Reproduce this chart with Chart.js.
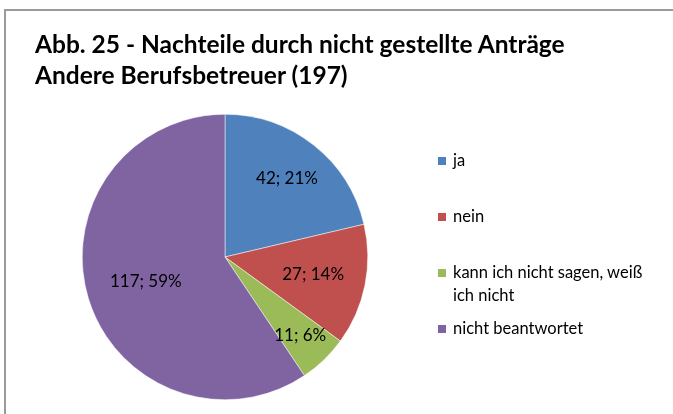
<!DOCTYPE html>
<html>
<head>
<meta charset="utf-8">
<script src="https://cdn.jsdelivr.net/npm/chart.js@4"></script>
<style>
    html, body { margin: 0; padding: 0; background: #fff; }
    #wrap { position: relative; width: 673px; height: 414px; overflow: hidden; font-family: Lato, "Liberation Sans", sans-serif; }
    #frame { position: absolute; left: 4px; top: 9px; width: 700px; height: 440px; border: 2px solid #9a9a9a; box-sizing: border-box; }
    #chart { position: absolute; left: 0; top: 0; }
    #title { position: absolute; left: 35px; top: 28px; font-weight: bold; font-size: 24.5px; line-height: 31px; color: #000; white-space: nowrap; }
    #legend { position: absolute; left: 437px; top: 0; font-size: 16.5px; color: #000; }
    .item { position: absolute; left: 0; width: 236px; line-height: 23px; }
    .item .sw { position: absolute; left: 1px; top: 8px; width: 8px; height: 8px; }
    .item .tx { display: block; padding-left: 16px; width: 205px; }
</style>
</head>
<body>
<div id="wrap">
    <div id="frame"></div>
    <canvas id="chart" width="673" height="414"></canvas>
    <div id="title">Abb. 25 - Nachteile durch nicht gestellte Anträge<br>Andere Berufsbetreuer (197)</div>
    <div id="legend"></div>
</div>
<script>
const categories = ['ja', 'nein', 'kann ich nicht sagen, weiß ich nicht', 'nicht beantwortet'];
const counts = [42, 27, 11, 117];
const percentLabels = ['21%', '14%', '6%', '59%'];
const colors = ['#4F81BD', '#C0504D', '#9BBB59', '#8064A2'];

// Beschriftungen in den Segmenten (Anzahl; Prozent)
const sliceLabels = {
    id: 'sliceLabels',
    afterDatasetsDraw(chart, args, opts) {
        const ctx = chart.ctx;
        const meta = chart.getDatasetMeta(0);
        ctx.save();
        ctx.font = '17px Lato, "Liberation Sans", sans-serif';
        ctx.fillStyle = '#000';
        ctx.textAlign = 'center';
        ctx.textBaseline = 'middle';
        meta.data.forEach((arc, i) => {
            const mid = (arc.startAngle + arc.endAngle) / 2;
            const r = arc.outerRadius * opts.radius[i];
            const x = arc.x + Math.cos(mid) * r;
            const y = arc.y + Math.sin(mid) * r;
            ctx.fillText(counts[i] + '; ' + percentLabels[i], x, y);
        });
        ctx.restore();
    }
};

new Chart(document.getElementById('chart'), {
    type: 'pie',
    data: {
        labels: categories,
        datasets: [{
            data: counts,
            backgroundColor: colors,
            borderColor: '#ffffff',
            borderWidth: 0.5
        }]
    },
    options: {
        responsive: false,
        animation: false,
        layout: { padding: { left: 82, right: 305, top: 114, bottom: 14 } },
        plugins: {
            legend: { display: false },
            tooltip: { enabled: false },
            sliceLabels: { radius: [0.7, 0.63, 0.76, 0.58] }
        }
    },
    plugins: [sliceLabels]
});

// Legende rechts
const legendTops = [149, 205, 261, 317];
const legend = document.getElementById('legend');
categories.forEach((c, i) => {
    const el = document.createElement('div');
    el.className = 'item';
    el.style.top = legendTops[i] + 'px';
    el.innerHTML = '<span class="sw" style="background:' + colors[i] + '"></span><span class="tx">' + c + '</span>';
    legend.appendChild(el);
});
</script>
</body>
</html>
